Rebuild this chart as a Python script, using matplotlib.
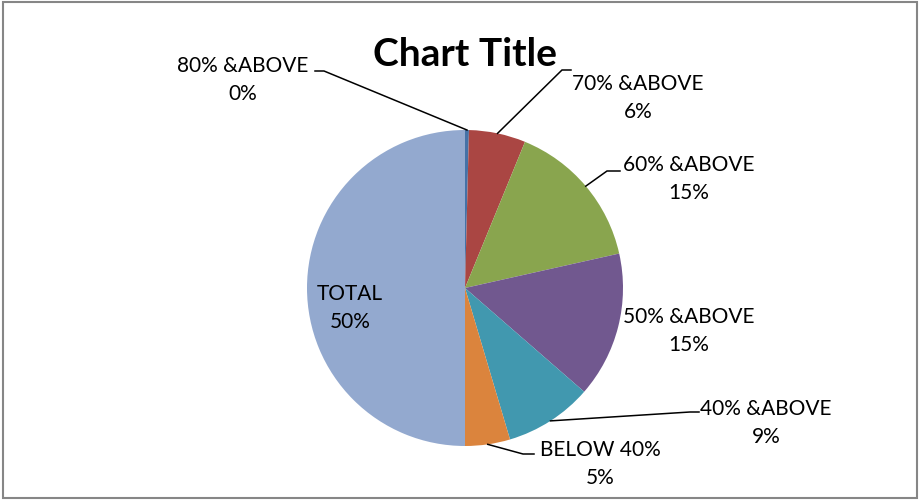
import numpy as np
import matplotlib.pyplot as plt
from matplotlib.patches import Rectangle

plt.rcParams['font.family'] = ['Lato', 'DejaVu Sans']

########## Data
categories = ['80% &ABOVE', '70% &ABOVE', '60% &ABOVE', '50% &ABOVE',
              '40% &ABOVE', 'BELOW 40%', 'TOTAL']
values = [0.4, 5.8, 15.3, 14.9, 9.0, 4.6, 50.0]
colors = ['#4572A7', '#AA4643', '#89A54E', '#71588F', '#4198AF', '#DB843D', '#93A9CF']

########## Layout (image pixels, y down)
W, H = 920, 502
centre = (465, H - 289)
radius = 158
label_xy = [(243, 80), (638, 98), (689, 179), (689, 331), (766, 423), (600, 464), (350, 308)]
# leader: elbow point, end point (None -> no leader line)
leaders = [((324, 72), (315, 72)), ((562, 71), (571, 71)), ((607, 172), (620, 172)), None,
           ((690, 413), (699, 413)), ((523, 455), (534, 455)), None]

fig = plt.figure(figsize=(W / 100, H / 100), dpi=100)
ax = fig.add_axes([0, 0, 1, 1])

wedges, _ = ax.pie(values, colors=colors, startangle=90, counterclock=False,
                   center=centre, radius=radius, frame=True,
                   wedgeprops=dict(linewidth=0))
ax.set_xlim(0, W)
ax.set_ylim(0, H)
ax.axis('off')

total = sum(values)
cum = np.cumsum([0] + values)
for i, (cat, v) in enumerate(zip(categories, values)):
    mid = 90 - 360 * (cum[i] + v / 2) / total
    ax_ = centre[0] + radius * np.cos(np.radians(mid))
    ay_ = centre[1] + radius * np.sin(np.radians(mid))
    lx, ly = label_xy[i]
    ax.text(lx, H - ly, f'{cat}\n{round(v)}%', ha='center', va='center',
            fontsize=15, linespacing=1.55, color='black')
    if leaders[i] is not None:
        (ex, ey), (tx, ty) = leaders[i]
        ax.plot([ax_, ex, tx], [ay_, H - ey, H - ty], color='black', lw=1.1,
                solid_joinstyle='miter')

ax.text(465, H - 55, 'Chart Title', ha='center', va='center',
        fontsize=28, fontweight='bold', color='black')

fig.patches.append(Rectangle((0.003, 0.005), 0.994, 0.99, transform=fig.transFigure,
                             fill=False, edgecolor='#868686', lw=1.5))

fig.savefig('out.png', dpi=100)
